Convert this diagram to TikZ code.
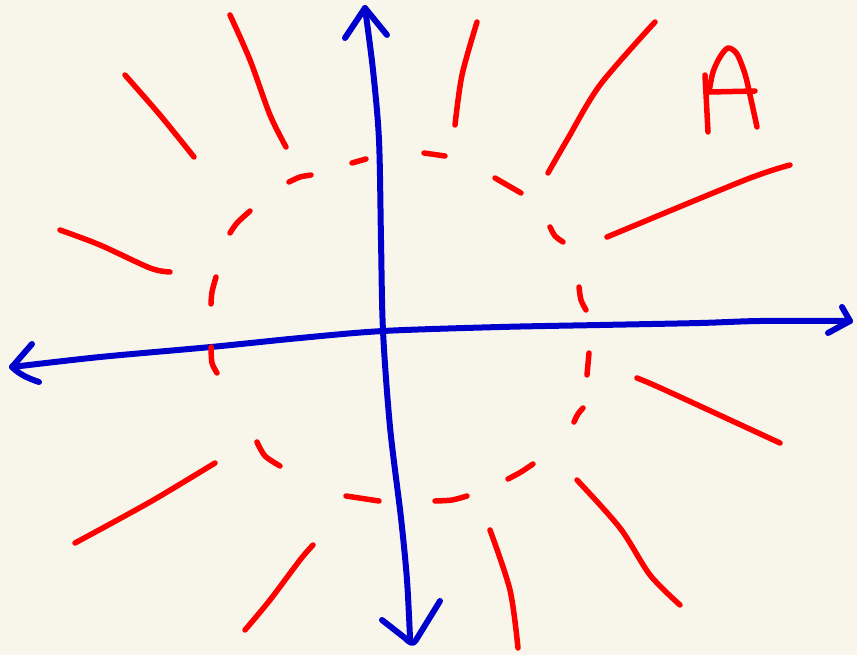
\documentclass[tikz,border=0pt]{standalone}
\usetikzlibrary{calc}
\definecolor{bgc}{RGB}{248,246,235}
\definecolor{axblue}{RGB}{0,0,205}
\definecolor{penred}{RGB}{255,0,0}
\tikzset{
  axis/.style={draw=axblue,line width=6pt,line cap=round,line join=round},
  ray/.style={draw=penred,line width=5.5pt,line cap=round,line join=round},
  dsh/.style={draw=penred,line width=5.5pt,line cap=round,line join=round}
}
\begin{document}
\begin{tikzpicture}[x=1pt,y=-1pt]
\fill[bgc] (0,0) rectangle (857,655);
\useasboundingbox (0,0) rectangle (857,655);
% horizontal axis
\draw[axis] plot[smooth,tension=0.5] coordinates {(12,367) (100,357) (211,347) (300,338) (383,331) (500,327) (600,325) (700,323) (760,321) (850,321)};
\draw[axis] (32,344) -- (12,367) .. controls (20,375) and (30,379) .. (39,382);
\draw[axis] (842,307) -- (850,321) -- (828,333);
% vertical axis
\draw[axis] plot[smooth,tension=0.5] coordinates {(365,8) (373,70) (379,140) (381,240) (383,331) (390,427) (401,518) (407,580) (410,638)};
\draw[axis] (345,38) -- (365,8) -- (387,35);
\draw[axis] (382,620) -- (405,638) .. controls (410,643) and (413,645) .. (416,640) -- (440,601);
% dashed circle
\draw[dsh] (352,163) -- (366,159);
\draw[dsh] (424,153) -- (445,156);
\draw[dsh] (495,178) -- (521,193);
\draw[dsh] plot[smooth] coordinates {(550,227) (555,236) (563,242)};
\draw[dsh] plot[smooth] coordinates {(579,287) (581,300) (586,310)};
\draw[dsh] (589,353) -- (587,375);
\draw[dsh] plot[smooth] coordinates {(583,408) (578,414) (574,422)};
\draw[dsh] plot[smooth] coordinates {(533,464) (521,472) (508,479)};
\draw[dsh] plot[smooth] coordinates {(467,496) (452,500) (435,501)};
\draw[dsh] (379,501) -- (346,496);
\draw[dsh] plot[smooth] coordinates {(280,466) (265,456) (257,442)};
\draw[dsh] plot[smooth] coordinates {(217,373) (212,363) (211,347)};
\draw[dsh] plot[smooth] coordinates {(211,304) (212,292) (216,277)};
\draw[dsh] plot[smooth] coordinates {(230,233) (237,223) (250,211)};
\draw[dsh] plot[smooth] coordinates {(289,182) (300,177) (311,175)};
% radial strokes
\draw[ray] plot[smooth] coordinates {(125,75) (160,115) (194,157)};
\draw[ray] plot[smooth] coordinates {(230,15) (250,60) (270,115) (286,147)};
\draw[ray] plot[smooth] coordinates {(477,22) (462,75) (455,125)};
\draw[ray] plot[smooth] coordinates {(655,22) (600,85) (567,140) (548,173)};
\draw[ray] plot[smooth] coordinates {(790,165) (745,180) (607,237)};
\draw[ray] plot[smooth] coordinates {(60,230) (100,245) (150,268) (170,272)};
\draw[ray] plot[smooth] coordinates {(637,378) (665,390) (780,443)};
\draw[ray] plot[smooth] coordinates {(215,463) (150,502) (75,543)};
\draw[ray] plot[smooth] coordinates {(577,480) (620,528) (650,575) (680,605)};
\draw[ray] plot[smooth] coordinates {(490,530) (510,590) (518,648)};
\draw[ray] plot[smooth] coordinates {(313,545) (300,560) (270,600) (245,630)};
% letter A
\draw[ray] (705,75) -- (708,132);
\draw[ray] plot[smooth] coordinates {(709,92) (713,72) (720,57) (728,48) (737,54) (745,74) (750,95) (757,127)};
\draw[ray] (710,92) -- (755,91);
\end{tikzpicture}
\end{document}
